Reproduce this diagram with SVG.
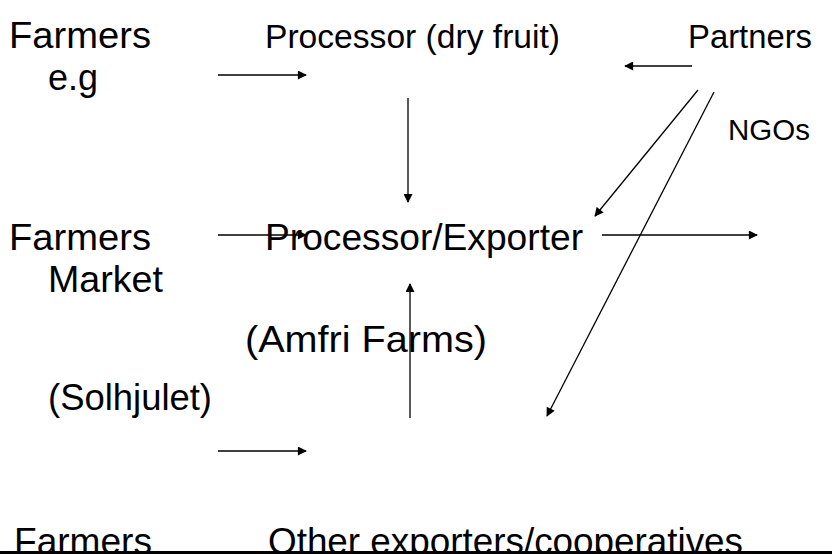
<svg xmlns="http://www.w3.org/2000/svg" width="832" height="554" viewBox="0 0 832 554">
<style>
text{font-family:"Liberation Sans",Arial,sans-serif;font-size:36px;fill:#000}
.c line{stroke:#000;stroke-width:1.3;fill:none}
</style>
<defs>
<marker id="ah" viewBox="0 0 10 10" refX="9" refY="5" markerWidth="10" markerHeight="9" markerUnits="userSpaceOnUse" orient="auto"><path d="M0,0L10,5L0,10z" fill="#000"/></marker>
</defs>
<rect width="832" height="554" fill="#fff"/>
<g id="farmers1"><text x="9" y="48" textLength="142" lengthAdjust="spacingAndGlyphs">Farmers</text><text x="48" y="90" textLength="50" lengthAdjust="spacingAndGlyphs">e.g</text></g>
<g id="processor-dry"><text x="265" y="48" style="font-size:34px" textLength="295" lengthAdjust="spacingAndGlyphs">Processor (dry fruit)</text></g>
<g id="partners"><text x="688" y="48" style="font-size:33px" textLength="124" lengthAdjust="spacingAndGlyphs">Partners</text><text x="728" y="140" style="font-size:30px" textLength="82" lengthAdjust="spacingAndGlyphs">NGOs</text></g>
<g id="farmers2"><text x="9" y="250" textLength="142" lengthAdjust="spacingAndGlyphs">Farmers</text><text x="48" y="292" textLength="115" lengthAdjust="spacingAndGlyphs">Market</text></g>
<g id="processor-exporter"><text x="265" y="250" textLength="318" lengthAdjust="spacingAndGlyphs">Processor/Exporter</text><text x="245" y="352" textLength="242" lengthAdjust="spacingAndGlyphs">(Amfri Farms)</text></g>
<g id="solhjulet"><text x="48" y="410" textLength="164" lengthAdjust="spacingAndGlyphs">(Solhjulet)</text></g>
<g id="farmers3"><text x="14" y="554" textLength="138" lengthAdjust="spacingAndGlyphs">Farmers</text></g>
<g id="other"><text x="268" y="554" textLength="475" lengthAdjust="spacingAndGlyphs">Other exporters/cooperatives</text></g>
<g class="c" id="connectors">
<line x1="218" y1="75" x2="306" y2="75" marker-end="url(#ah)"/>
<line x1="692" y1="66" x2="625" y2="66" marker-end="url(#ah)"/>
<line x1="408" y1="98" x2="408" y2="202" marker-end="url(#ah)"/>
<line x1="218" y1="235" x2="306" y2="235" marker-end="url(#ah)"/>
<line x1="602" y1="235" x2="757" y2="235" marker-end="url(#ah)"/>
<line x1="698" y1="90" x2="595" y2="216" marker-end="url(#ah)"/>
<line x1="714" y1="92" x2="547" y2="416" marker-end="url(#ah)"/>
<line x1="410" y1="418" x2="410" y2="284" marker-end="url(#ah)"/>
<line x1="218" y1="451" x2="306" y2="451" marker-end="url(#ah)"/>
</g>
<rect x="0" y="551" width="832" height="3" fill="#000"/>
</svg>
